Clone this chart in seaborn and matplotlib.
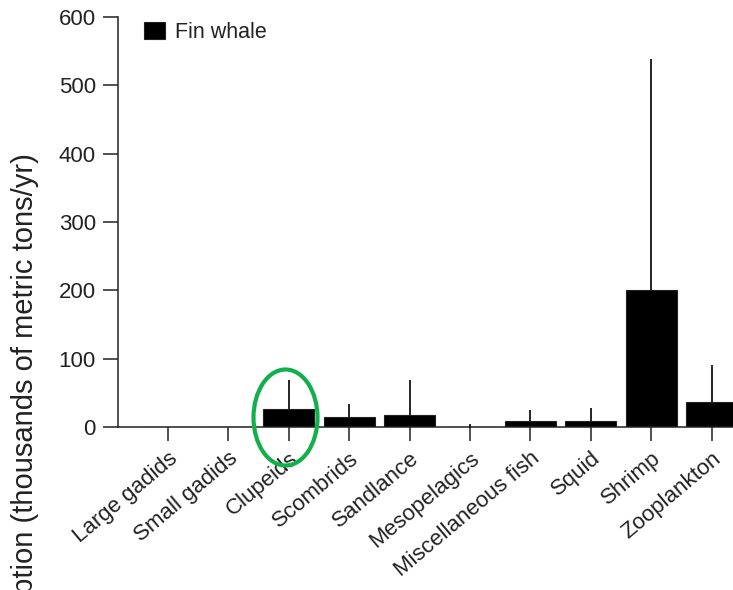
import matplotlib
matplotlib.use("Agg")
import matplotlib.pyplot as plt
from matplotlib.patches import Ellipse
import seaborn as sns
import pandas as pd

categories = ["Large gadids", "Small gadids", "Clupeids", "Scombrids", "Sandlance",
              "Mesopelagics", "Miscellaneous fish", "Squid", "Shrimp", "Zooplankton"]
consumption = [0, 0, 26, 14, 17, 0.5, 9.5, 9.5, 200, 36]
upper_error = [0, 0, 69, 33, 69, 4, 25, 28, 539, 91]
species = "Fin whale"
y_ticks = [0, 100, 200, 300, 400, 500, 600]

sns.set_style("ticks")
plt.rcParams["font.family"] = ["Liberation Sans", "DejaVu Sans"]

df = pd.DataFrame({"category": categories, "value": consumption,
                   "species": [species] * len(categories)})

W, H = 733, 590
fig = plt.figure(figsize=(W / 100, H / 100), dpi=100)
left, bottom, top, right = 118, 427, 17, W
ax = fig.add_axes([left / W, 1 - bottom / H, (right - left) / W, (bottom - top) / H])

sns.barplot(data=df, x="category", y="value", hue="species", palette=["black"],
            width=0.85, dodge=False, errorbar=None, ax=ax,
            edgecolor="#222222", linewidth=0.8)

xs = list(range(len(categories)))
ax.vlines(xs, consumption, upper_error, color="black", linewidth=1.2, zorder=3)

ax.set_ylim(0, 600)
ax.set_yticks(y_ticks)
ax.set_xlim(-0.828, 9.354)
ax.set_xlabel("")
ax.set_ylabel("")

for s in ["top", "right"]:
    ax.spines[s].set_visible(False)
for s in ["left", "bottom"]:
    ax.spines[s].set_linewidth(1.1)
    ax.spines[s].set_color("#222222")

ax.tick_params(axis="y", direction="out", length=11, width=1.1, pad=5,
               labelsize=16, colors="#222222")
ax.tick_params(axis="x", direction="out", length=10, width=1.1, pad=5,
               labelsize=16, colors="#222222")
ax.set_xticks(xs)
ax.set_xticklabels(categories)
for lab in ax.get_xticklabels():
    lab.set_rotation(40)
    lab.set_ha("right")
    lab.set_va("top")
    lab.set_rotation_mode("anchor")

leg = ax.legend(loc="upper left", bbox_to_anchor=(0.042, 0.987), frameon=False,
                fontsize=15.5, handlelength=1.0, handleheight=0.85,
                handletextpad=0.45, borderpad=0, borderaxespad=0)
for t in leg.get_texts():
    t.set_color("#222222")

fig.text(25 / W, 1 - 153 / H, "Consumption (thousands of metric tons/yr)",
         rotation=90, ha="center", va="top", fontsize=21, color="#222222")

ell = Ellipse((285.5 / W, 1 - 417.5 / H), 64 / W, 96 / H, transform=fig.transFigure,
              fill=False, edgecolor="#12b04a", linewidth=3.0, zorder=10)
fig.add_artist(ell)

fig.savefig("out.png", dpi=100)
